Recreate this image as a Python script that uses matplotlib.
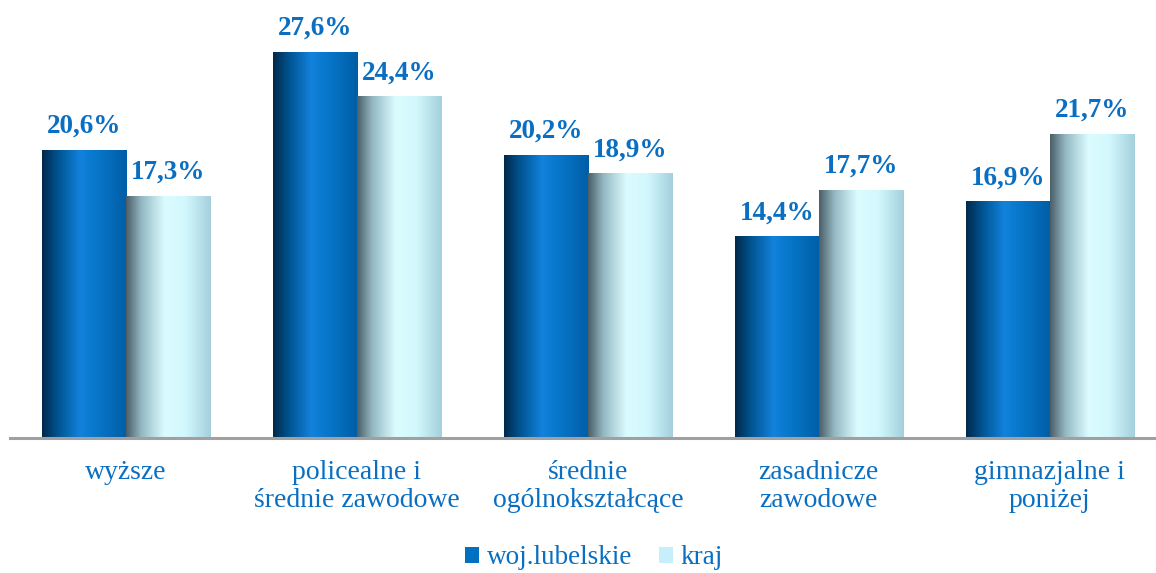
import numpy as np
import matplotlib
matplotlib.use("Agg")
import matplotlib.pyplot as plt
from matplotlib.colors import LinearSegmentedColormap

categories = ["wyższe", "policealne i\nśrednie zawodowe", "średnie\nogólnokształcące",
              "zasadnicze\nzawodowe", "gimnazjalne i\nponiżej"]
lubelskie = [20.6, 27.6, 20.2, 14.4, 16.9]
kraj = [17.3, 24.4, 18.9, 17.7, 21.7]
series_names = ["woj.lubelskie", "kraj"]

blue_txt = "#0a6fc2"
plt.rcParams['font.family'] = ['Liberation Serif', 'DejaVu Serif']

dark_cmap = LinearSegmentedColormap.from_list("dark", [
    (0.0, "#00284a"), (0.18, "#00528e"), (0.45, "#1282dc"),
    (0.62, "#0878cc"), (1.0, "#005ea6")])
light_cmap = LinearSegmentedColormap.from_list("light", [
    (0.0, "#4a5e68"), (0.18, "#94b8c2"), (0.45, "#dafcff"),
    (0.7, "#d2f8fd"), (1.0, "#a4d0dc")])

fig = plt.figure(figsize=(11.56, 5.73), dpi=100)
ax = fig.add_axes([10 / 1156, 135 / 573, 1 - 10 / 1156, 420 / 573])

x = np.arange(len(categories))
w = 0.364
bars1 = ax.bar(x - w / 2, lubelskie, w, color="#0070c0", label=series_names[0])
bars2 = ax.bar(x + w / 2, kraj, w, color="#c6eefb", label=series_names[1])

grad = np.linspace(0, 1, 256).reshape(1, -1)
for bars, cmap in [(bars1, dark_cmap), (bars2, light_cmap)]:
    for b in bars:
        bx, bw, bh = b.get_x(), b.get_width(), b.get_height()
        im = ax.imshow(grad, cmap=cmap, extent=[bx, bx + bw, 0, bh],
                       aspect="auto", zorder=2, interpolation="bicubic")
        im.set_clip_path(b)

for bars, vals in [(bars1, lubelskie), (bars2, kraj)]:
    for b, v in zip(bars, vals):
        ax.text(b.get_x() + b.get_width() / 2, v + 0.8,
                ("%.1f%%" % v).replace(".", ","), ha="center", va="bottom",
                fontsize=19.5, fontweight="bold", color=blue_txt)

ax.set_xlim(-0.502, 4.46)
ax.set_ylim(0, 30)
for s in ["top", "right", "left"]:
    ax.spines[s].set_visible(False)
ax.spines["bottom"].set_color("#a0a0a0")
ax.spines["bottom"].set_linewidth(2.2)
ax.set_yticks([])
ax.set_xticks(x)
ax.set_xticklabels(categories, fontsize=20, color=blue_txt, linespacing=1.12)
ax.tick_params(axis="x", length=0, pad=16)

leg = fig.legend(handles=[bars1, bars2], labels=series_names, loc="lower center",
                 bbox_to_anchor=(0.514, -0.038), ncol=2, frameon=False,
                 fontsize=19.5, handlelength=0.52, handleheight=0.52,
                 handletextpad=0.28, columnspacing=1.0, labelcolor=blue_txt)

fig.savefig("out.png", dpi=100)
